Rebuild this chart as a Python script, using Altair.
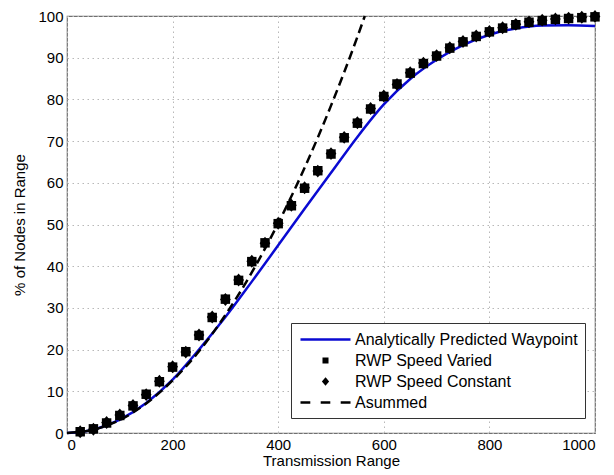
import altair as alt
import pandas as pd

FONT = "Liberation Sans"

SERIES = ["Analytically Predicted Waypoint", "RWP Speed Varied",
          "RWP Speed Constant", "Asummed"]
BLUE = "#0a0ad2"
# colour scale listed in its own order so that its (hidden) legend stays separate
COLOR_DOMAIN = [SERIES[1], SERIES[2], SERIES[3], SERIES[0]]
COLOR_RANGE = ["black", "black", "black", BLUE]
# custom symbol paths: solid line, square, diamond, dashed line
SHAPES = ["M-3.125,0H3.125",
          "M-0.22,-0.22H0.22V0.22H-0.22Z",
          "M0,-0.3L0.25,0L0,0.3L-0.25,0Z",
          "M-3.125,0H-1.9M-0.6,0H0.6M1.9,0H3.125"]

analytic_x = [0, 50, 100, 150, 200, 250, 300, 350, 400, 450, 500,
              550, 600, 650, 700, 750, 800, 850, 900, 950, 1000]
analytic_y = [0, 0.8, 3.2, 7.2, 12.8, 20.0, 27.8, 36.3, 45.0, 53.8, 62.4,
              71.0, 78.8, 84.9, 89.5, 93.0, 95.5, 97.0, 97.7, 97.8, 97.6]

marker_x = [25, 50, 75, 100, 125, 150, 175, 200, 225, 250,
            275, 300, 325, 350, 375, 400, 425, 450, 475, 500,
            525, 550, 575, 600, 625, 650, 675, 700, 725, 750,
            775, 800, 825, 850, 875, 900, 925, 950, 975, 1000]
varied_y = [0.3, 1.0, 2.4, 4.2, 6.5, 9.3, 12.3, 15.8, 19.5, 23.4,
            27.7, 32.1, 36.6, 41.1, 45.6, 50.2, 54.5, 58.7, 62.9, 66.9,
            70.8, 74.3, 77.7, 80.7, 83.7, 86.3, 88.6, 90.4, 92.3, 93.8,
            95.1, 96.2, 97.1, 97.9, 98.5, 98.9, 99.2, 99.4, 99.6, 99.8]
constant_y = [0.3, 0.9, 2.5, 4.3, 6.6, 9.2, 12.4, 15.9, 19.4, 23.5,
              27.8, 32.0, 36.7, 41.2, 45.5, 50.3, 54.6, 58.8, 62.8, 67.0,
              70.9, 74.4, 77.8, 80.8, 83.6, 86.4, 88.7, 90.5, 92.4, 93.9,
              95.2, 96.3, 97.2, 98.0, 98.6, 99.0, 99.3, 99.5, 99.7, 99.9]

assumed_x = [0, 50, 100, 150, 200, 250, 300, 350, 400, 450, 500, 550, 564]
assumed_y = [0, 0.8, 3.1, 7.1, 12.6, 19.6, 28.3, 38.5, 50.3, 63.6, 78.5, 95.0, 100]

df_analytic = pd.DataFrame({"x": analytic_x, "y": analytic_y, "series": SERIES[0]})
df_points = pd.concat([
    pd.DataFrame({"x": marker_x, "y": varied_y, "series": SERIES[1]}),
    pd.DataFrame({"x": marker_x, "y": constant_y, "series": SERIES[2]}),
])
df_assumed = pd.DataFrame({"x": assumed_x, "y": assumed_y, "series": SERIES[3]})

xenc = alt.X("x:Q", scale=alt.Scale(domain=[0, 1000], nice=False),
             axis=alt.Axis(title="Transmission Range", values=[0, 200, 400, 600, 800, 1000],
                           format="d", titleY=27, titleBaseline="middle"))
yenc = alt.Y("y:Q", scale=alt.Scale(domain=[0, 100], nice=False),
             axis=alt.Axis(title="% of Nodes in Range", values=list(range(0, 101, 10)),
                           format="d", titleX=-48, titleY=208.5, titleAngle=270,
                           titleBaseline="middle", titleAlign="center"))
color_scale = alt.Scale(domain=COLOR_DOMAIN, range=COLOR_RANGE)
cenc = alt.Color("series:N", scale=color_scale, legend=None)

analytic = alt.Chart(df_analytic).mark_line(strokeWidth=2.5, interpolate="monotone").encode(
    x=xenc, y=yenc, color=cenc)

assumed = alt.Chart(df_assumed).mark_line(strokeWidth=2.5, strokeDash=[9, 5],
                                          interpolate="monotone").encode(
    x=xenc, y=yenc, color=cenc)

sym_color = alt.ExprRef(expr=f"datum.value == '{SERIES[0]}' ? '{BLUE}' : 'black'")

legend = alt.Legend(
    title=None, orient="none", legendX=224, legendY=307,
    symbolSize=256, rowPadding=3, padding=7,
    labelFont=FONT, labelFontSize=16, labelColor="black", labelOffset=20,
    labelLimit=400,
    strokeColor="#333333", fillColor="white", symbolOffset=18,
    symbolFillColor=sym_color, symbolStrokeColor=sym_color,
    symbolStrokeWidth=2.5, symbolOpacity=1,
)

points = alt.Chart(df_points).mark_point(filled=True, size=1850, opacity=1).encode(
    x=xenc, y=yenc, color=cenc,
    shape=alt.Shape("series:N", scale=alt.Scale(domain=SERIES, range=SHAPES), legend=legend))

chart = alt.layer(analytic, points, assumed).properties(
    width=528, height=417,
    autosize=alt.AutoSizeParams(type="none"),
    padding={"left": 59, "top": 8, "right": 11, "bottom": 37},
).configure_view(
    stroke="#707070", strokeWidth=1.2
).configure_axis(
    grid=True, gridColor="#b8b8b8", gridDash=[1.5, 3.5], gridWidth=1,
    domain=False, ticks=False, labelPadding=4,
    labelFont=FONT, labelFontSize=15, labelColor="black",
    titleFont=FONT, titleFontSize=15, titleColor="black", titleFontWeight="normal",
)

chart.save("out.html", embed_options={"renderer": "svg", "actions": False})
